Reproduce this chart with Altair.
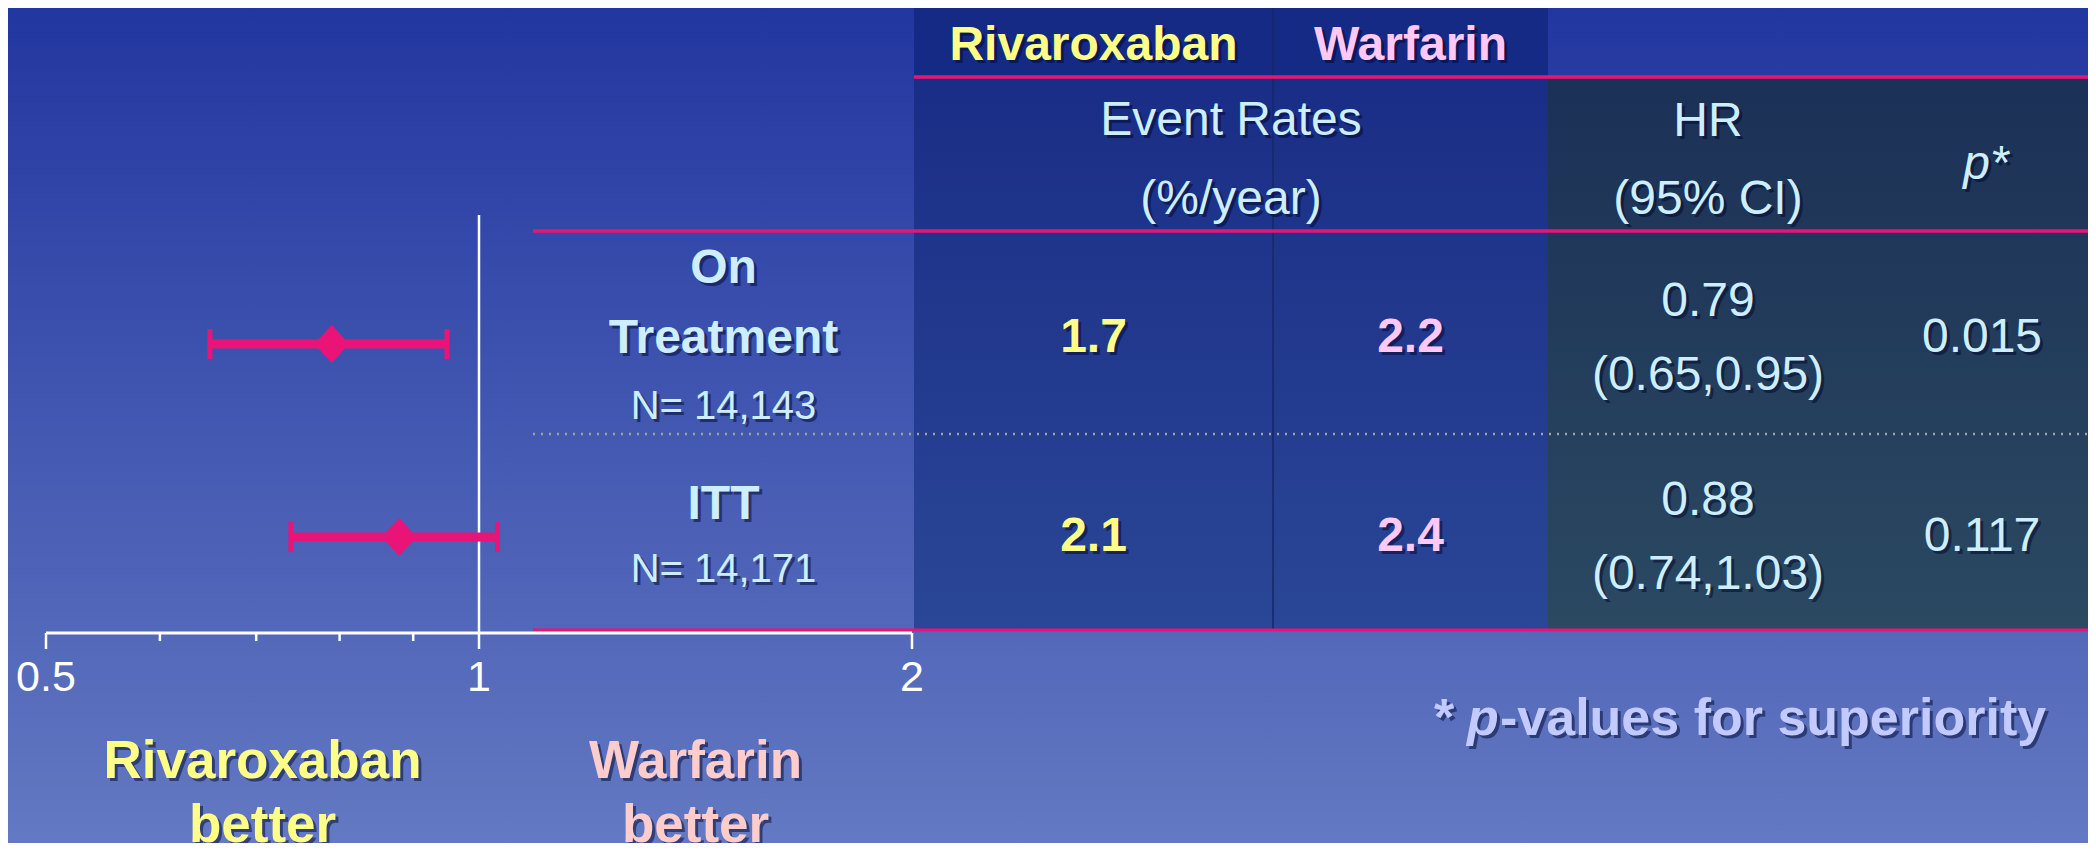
import json
import math
import altair as alt
import pandas as pd

# ---------------- data ----------------
groups = ["On Treatment", "ITT"]
n_patients = ["N= 14,143", "N= 14,171"]
hr_point = [0.79, 0.88]
ci_low = [0.65, 0.74]
ci_high = [0.95, 1.03]
rate_rivaroxaban = [1.7, 2.1]
rate_warfarin = [2.2, 2.4]
p_values = ["0.015", "0.117"]
arms = ["Rivaroxaban", "Warfarin"]
major_ticks = [0.5, 1, 2]
minor_ticks = [0.6, 0.7, 0.8, 0.9]
rate_head = ["Event Rates", "(%/year)"]
hr_head = ["HR", "(95% CI)"]
p_head = ["p*"]
footnote = ["*", "p", "-values for superiority"]

# ---------------- style ----------------
W, H = 2080, 835
FONT = "Liberation Sans, Arial, sans-serif"
PINK = "#ea1479"
YELLOW = "#ffff88"
PINKTXT = "#ffc8f6"
LIGHT = "#cdeeff"
WBETTER = "#ffcccc"
FOOT = "#c2caff"
SHADOW = "#00062e"
AXIS_Y = 625
LABEL_STEP = 0.34  # line step of the row labels, in table-row units
TS = 48  # table font size


def grad(top, bottom):
    return {"gradient": "linear", "x1": 0, "x2": 0, "y1": 0, "y2": 1,
            "stops": [{"offset": 0, "color": top}, {"offset": 1, "color": bottom}]}


def text_pair(base, enc, **mk):
    sh = dict(mk)
    sh["color"] = SHADOW
    sh["opacity"] = 0.5
    sh["dx"] = mk.get("dx", 0) + 3
    sh["dy"] = mk.get("dy", 0) + 3
    enc_sh = {k: v for k, v in enc.items() if k != "color"}
    return [base.mark_text(**sh).encode(**enc_sh), base.mark_text(**mk).encode(**enc)]


one = pd.DataFrame({"k": [0]})

# ---------------- background ----------------
bg = alt.Chart(one).mark_rect(color=grad("#2236a0", "#6379c2")).encode(
    x=alt.value(0), x2=alt.value(W), y=alt.value(0), y2=alt.value(H))

# ---------------- forest plot ----------------
fx = alt.Scale(type="log", domain=[major_ticks[0], major_ticks[-1]], range=[38, 904])
fy = alt.Scale(type="point", domain=groups, range=[336, 529], padding=0)


def fxe(field):
    return alt.X(field, scale=fx, axis=None)


forest_df = pd.DataFrame({"group": groups, "hr": hr_point, "lo": ci_low, "hi": ci_high})
fb = alt.Chart(forest_df)
ybar = alt.Y("group:N", scale=fy, axis=None)

vline = alt.Chart(pd.DataFrame({"ref": [1]})).mark_rule(color="white", strokeWidth=2.5).encode(
    x=fxe("ref:Q"), y=alt.value(207), y2=alt.value(AXIS_Y))

# axis drawn through the log scale
span_df = pd.DataFrame({"a": [major_ticks[0]], "b": [major_ticks[-1]]})
axis_line = alt.Chart(span_df).mark_rule(color="white", strokeWidth=3).encode(
    x=fxe("a:Q"), x2="b:Q", y=alt.value(AXIS_Y))
major_df = pd.DataFrame({"v": major_ticks})
major = alt.Chart(major_df).mark_rule(color="white", strokeWidth=2.5).encode(
    x=fxe("v:Q"), y=alt.value(AXIS_Y), y2=alt.value(AXIS_Y + 16))
minor = alt.Chart(pd.DataFrame({"v": minor_ticks})).mark_rule(color="white", strokeWidth=2.5).encode(
    x=fxe("v:Q"), y=alt.value(AXIS_Y), y2=alt.value(AXIS_Y + 8))
tick_labels = alt.Chart(major_df).mark_text(
    font=FONT, fontSize=43, color="white", align="center", baseline="top").encode(
    x=fxe("v:Q"), y=alt.value(AXIS_Y + 24), text=alt.Text("v:Q", format="~g"))

bar = fb.mark_rule(color=PINK, strokeWidth=9).encode(x=fxe("lo:Q"), x2="hi:Q", y=ybar)
cap_l = fb.mark_tick(color=PINK, thickness=5, size=30, opacity=1).encode(x=fxe("lo:Q"), y=ybar)
cap_r = fb.mark_tick(color=PINK, thickness=5, size=30, opacity=1).encode(x=fxe("hi:Q"), y=ybar)
diamond = fb.mark_point(shape="M-0.92,0L0,-1L0.92,0L0,1Z", filled=True, size=1444,
                        color=PINK, opacity=1, strokeWidth=0).encode(x=fxe("hr:Q"), y=ybar)

better_df = pd.DataFrame({
    "arm": arms,
    "lines": [[a, "better"] for a in arms],
    "pos": [math.sqrt(major_ticks[0] * major_ticks[1]), math.sqrt(major_ticks[1] * major_ticks[2])],
})
better = text_pair(
    alt.Chart(better_df),
    dict(x=fxe("pos:Q"), y=alt.value(786),
         color=alt.Color("arm:N", scale=alt.Scale(domain=arms, range=[YELLOW, WBETTER]), legend=None),
         text=alt.Text("lines:N")),
    font=FONT, fontSize=53, fontWeight="bold", lineHeight=64, dy=-32,
    align="center", baseline="middle")

forest = alt.layer(vline, axis_line, major, minor, tick_labels, bar, cap_l, cap_r, diamond, *better)

# ---------------- table ----------------
COLS = ["label", "Rivaroxaban", "Warfarin", "HR", "p"]
ROWS = ["arms", "measures"] + groups
tx = alt.Scale(type="linear", domain=[0, 1, 2, 3, 4, 5],
               range=[525, 906, 1265, 1540, 1860, 2088], nice=False, zero=False)
ty = alt.Scale(type="linear", domain=[0, 1, 2, 3, 4],
               range=[-1, 69, 223, 426, 622], nice=False, zero=False)

cells = [
    dict(row="arms", col="Rivaroxaban", kind="arm_r", lines=[arms[0]]),
    dict(row="arms", col="Warfarin", kind="arm_w", lines=[arms[1]]),
    dict(row="measures", col="Rivaroxaban", kind="ratehead", lines=rate_head),
    dict(row="measures", col="HR", kind="head", lines=hr_head),
    dict(row="measures", col="p", kind="phead", lines=p_head),
]
for i, g in enumerate(groups):
    words = g.split(" ")
    label_lines = words + [n_patients[i]]
    for j, ln in enumerate(label_lines):
        cells.append(dict(row=g, col="label", kind="lab_b" if j < len(words) else "lab_n",
                          lines=[ln], idx=j, n=len(label_lines)))
    cells.append(dict(row=g, col="Rivaroxaban", kind="rate_r", lines=[f"{rate_rivaroxaban[i]:.1f}"]))
    cells.append(dict(row=g, col="Warfarin", kind="rate_w", lines=[f"{rate_warfarin[i]:.1f}"]))
    cells.append(dict(row=g, col="HR", kind="hr",
                      lines=[f"{hr_point[i]:.2f}", f"({ci_low[i]:.2f},{ci_high[i]:.2f})"]))
    cells.append(dict(row=g, col="p", kind="p", lines=[p_values[i]]))
cells_df = pd.DataFrame(cells)
cells_df["idx"] = cells_df["idx"].fillna(0)
cells_df["n"] = cells_df["n"].fillna(1)

tbase = alt.Chart(cells_df).transform_calculate(
    cx=f"indexof({json.dumps(COLS)}, datum.col) + 0.5",
    cy=f"indexof({json.dumps(ROWS)}, datum.row) + 0.5 + (datum.idx - (datum.n - 1) / 2) * {LABEL_STEP}",
)


def cell(kind, x=None, **mk):
    b = tbase.transform_filter(alt.datum.kind == kind)
    enc = dict(x=x if x is not None else alt.X("cx:Q", scale=tx, axis=None),
               y=alt.Y("cy:Q", scale=ty, axis=None), text=alt.Text("lines:N"))
    mk.setdefault("align", "center")
    mk.setdefault("baseline", "middle")
    mk.setdefault("font", FONT)
    return text_pair(b, enc, **mk)


def rect(c0, c1, r0, r1, color):
    return alt.Chart(one).mark_rect(color=color, strokeWidth=0).encode(
        x=alt.XDatum(c0, scale=tx, axis=None), x2=alt.datum(c1),
        y=alt.YDatum(r0, scale=ty, axis=None), y2=alt.datum(r1))


def hrule(r, c0, c1, color, width, dash=None):
    mk = dict(color=color, strokeWidth=width)
    if dash:
        mk["strokeDash"] = dash
    return alt.Chart(one).mark_rule(**mk).encode(
        x=alt.XDatum(c0, scale=tx, axis=None), x2=alt.datum(c1),
        y=alt.YDatum(r, scale=ty, axis=None))


panels = [
    rect(1, 3, 0, 1, "#152a84"),
    rect(1, 3, 1, 4, grad("#1a2d86", "#2a4696")),
    rect(3, 5, 1, 4, grad("#1b3056", "#2b4961")),
]
divider = alt.Chart(one).mark_rule(color="#16276a", strokeWidth=1.5).encode(
    x=alt.XDatum(2, scale=tx, axis=None),
    y=alt.YDatum(0, scale=ty, axis=None), y2=alt.datum(4))
rules = [
    hrule(3, 0, 5, "#a0a0a8", 2.5, [2, 6]),
    hrule(1, 1, 5, PINK, 3.5),
    hrule(2, 0, 5, PINK, 3.5),
    hrule(4, 0, 5, PINK, 3),
]

texts = (
    cell("arm_r", fontSize=TS, fontWeight="bold", color=YELLOW, dy=4)
    + cell("arm_w", fontSize=TS, fontWeight="bold", color=PINKTXT, dy=4)
    + cell("ratehead", x=alt.value(1223), fontSize=TS, color=LIGHT, lineHeight=79, dy=-33)
    + cell("head", fontSize=TS, color=LIGHT, lineHeight=78, dy=-32)
    + cell("phead", fontSize=TS, fontStyle="italic", color=LIGHT, dx=4, dy=11)
    + cell("lab_b", fontSize=TS, fontWeight="bold", color=LIGHT, dy=6)
    + cell("lab_n", fontSize=40, color=LIGHT, dy=5)
    + cell("rate_r", fontSize=TS, fontWeight="bold", color=YELLOW, dy=5)
    + cell("rate_w", fontSize=TS, fontWeight="bold", color=PINKTXT, dy=5)
    + cell("hr", fontSize=TS, color=LIGHT, lineHeight=74, dy=-31)
    + cell("p", fontSize=TS, color=LIGHT, dy=5)
)

table = alt.layer(*panels, divider, *rules, *texts)

# ---------------- footnote ----------------
foot_df = pd.DataFrame({"piece": footnote})
fbase = alt.Chart(foot_df)
foot = []
for piece, xpos, style in zip(footnote, [1426, 1459, 1492], ["normal", "italic", "normal"]):
    foot += text_pair(
        fbase.transform_filter(alt.datum.piece == piece),
        dict(x=alt.value(xpos), y=alt.value(727), text="piece:N"),
        font=FONT, fontSize=52, fontWeight="bold", fontStyle=style, color=FOOT,
        align="left", baseline="alphabetic")

chart = alt.layer(bg, table, forest, *foot).resolve_scale(
    x="independent", y="independent"
).properties(
    width=W, height=H, padding=0, autosize=alt.AutoSizeParams(type="none")
).configure_view(strokeWidth=0)

chart.save("out.html", embed_options={"renderer": "svg", "actions": False})
